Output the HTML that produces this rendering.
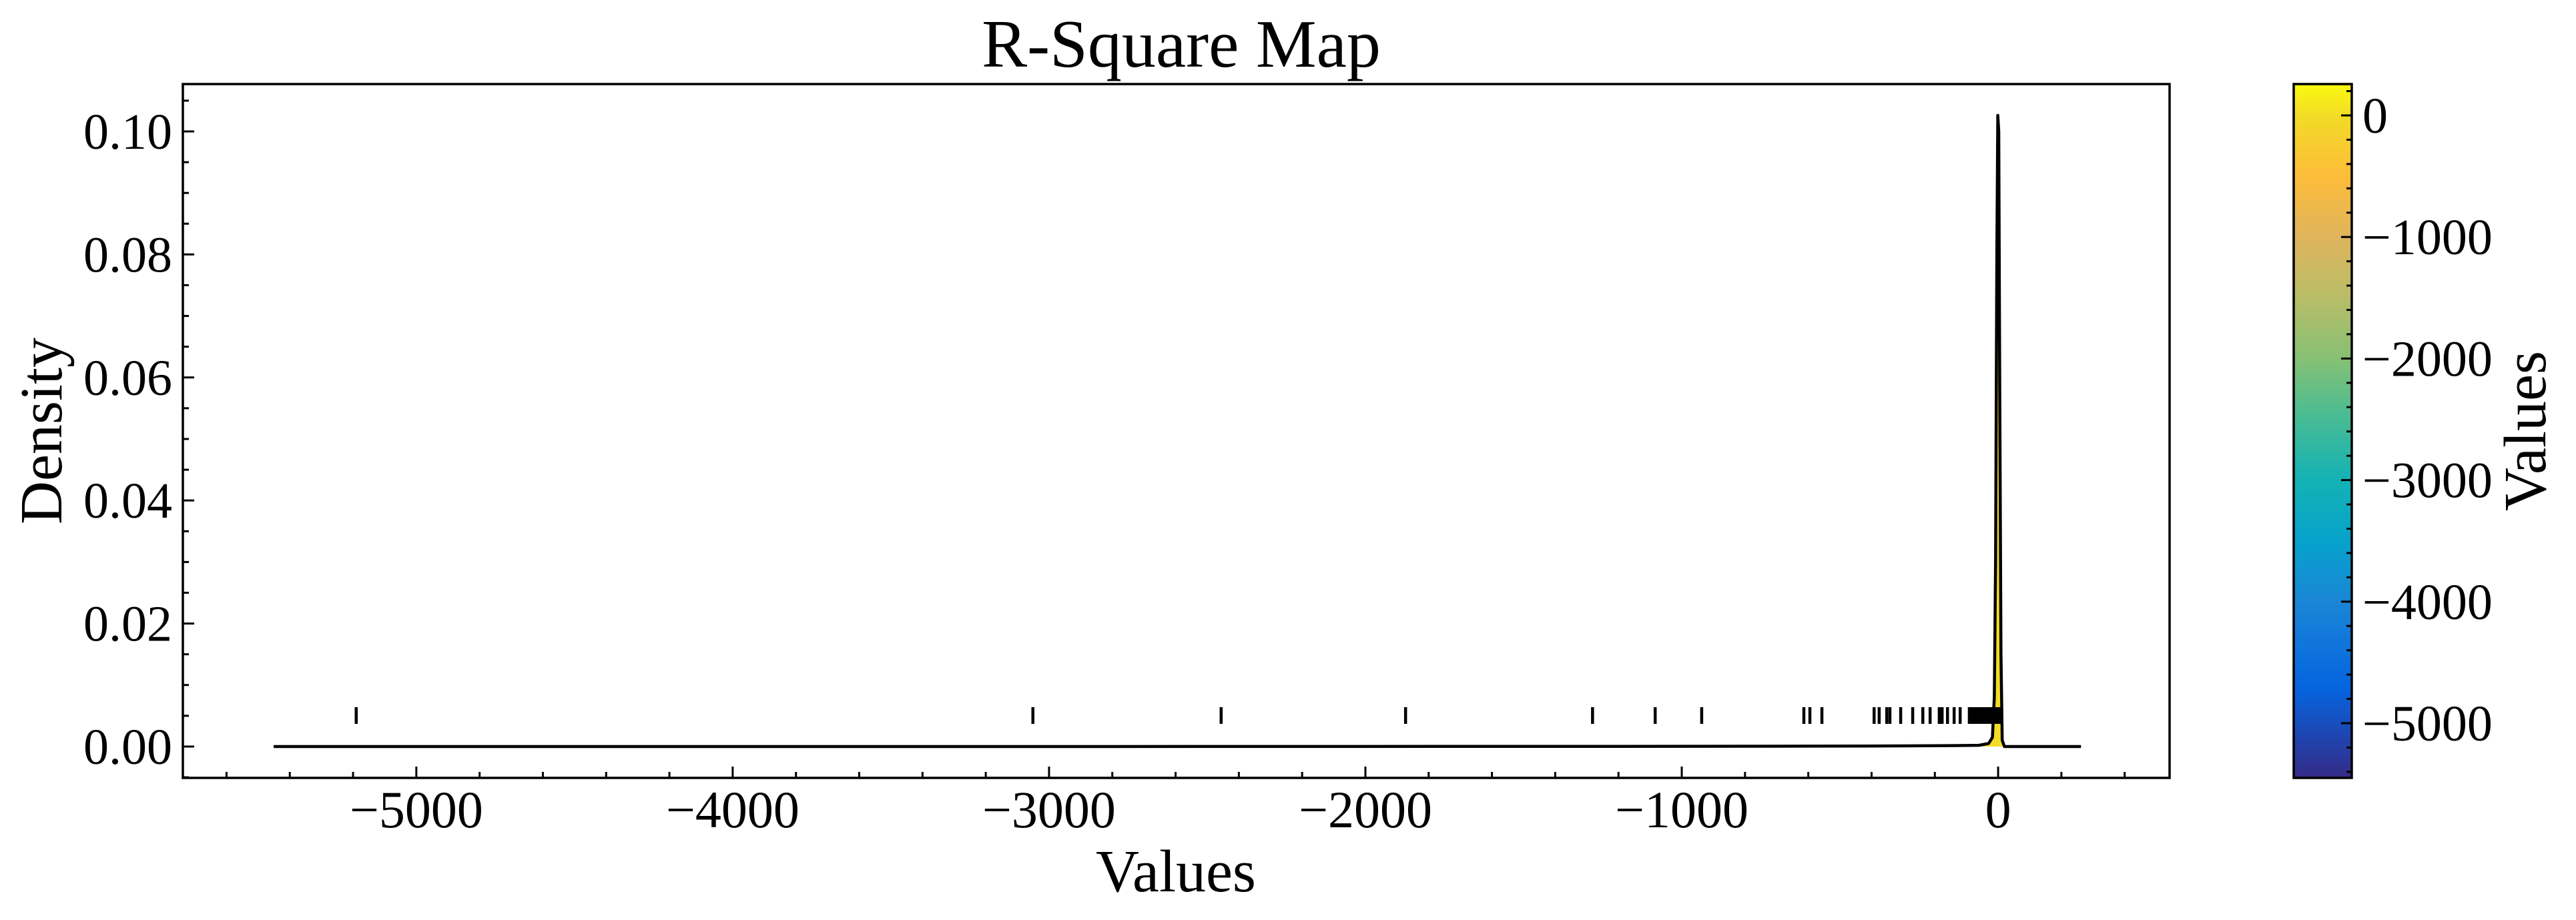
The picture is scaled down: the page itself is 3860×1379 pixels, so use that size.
<!DOCTYPE html>
<html><head><meta charset="utf-8"><style>
html,body{margin:0;padding:0;background:#fff;}
svg{display:block;font-family:"Liberation Serif","DejaVu Serif",serif;}
</style></head><body>
<svg id="chart" width="3860" height="1379" viewBox="0 0 3860 1379" xmlns="http://www.w3.org/2000/svg">
<defs>
<linearGradient id="parulaX" gradientUnits="userSpaceOnUse" x1="0" y1="0" x2="1" y2="0"></linearGradient>
<linearGradient id="parulaY" x1="0" y1="1" x2="0" y2="0"></linearGradient>
</defs>
<rect width="3860" height="1379" fill="#fff"/>
<g id="plot"></g>
</svg>
<script>
const curveX = [-5451, -3000, -1200, -600, -300, -150, -60, -30, -18, -12, -8, -4, -1, 2, 5, 9, 13, 20, 262];
const curveY = [0, 0, 0.00003, 0.00006, 0.0001, 0.00015, 0.0002, 0.0005, 0.0015, 0.008, 0.03, 0.08, 0.1026, 0.1, 0.06, 0.015, 0.001, 0, 0];
const rugValues = [-5190, -3051, -2456, -1873, -1282, -1084, -937, -614, -595, -557, -392, -376, -352, -342, -308, -270, -238, -215, -186, -177, -160, -139, -120, -91, -85, -80, -75, -70, -65, -60, -55, -50, -45, -40, -35, -30, -25, -20, -15, -10, -5, 0, 3, 6];
const xTicks = [-5000, -4000, -3000, -2000, -1000, 0];
const yTicks = [0, 0.02, 0.04, 0.06, 0.08, 0.10];
const cbTicks = [0, -1000, -2000, -3000, -4000, -5000];
const cbRange = [-5450, 258];

const NS = "http://www.w3.org/2000/svg";
const AX = {l:274, r:3251, t:126, b:1166};
const xMin = -5738, xMax = 542, yMin = -0.0051, yMax = 0.1077;
const X = v => AX.l + (v - xMin) / (xMax - xMin) * (AX.r - AX.l);
const Y = v => AX.b - (v - yMin) / (yMax - yMin) * (AX.b - AX.t);
const CB = {l:3437, r:3524, t:126, b:1166};
const CY = v => CB.b - (v - cbRange[0]) / (cbRange[1] - cbRange[0]) * (CB.b - CB.t);
const g = document.getElementById('plot');
function mk(tag, attrs, parent){const e=document.createElementNS(NS,tag);for(const k in attrs)e.setAttribute(k,attrs[k]);(parent||g).appendChild(e);return e;}
const fmtMinus = s => String(s).replace('-', '\u2212');

const stops = [[0,'#352a87'],[0.13,'#0565e0'],[0.254,'#1a86d6'],[0.34,'#07a2cc'],[0.43,'#14b2b4'],[0.52,'#48bc94'],[0.604,'#86c074'],[0.7,'#bcbd66'],[0.78,'#dfb45c'],[0.867,'#fdbc3a'],[0.955,'#f2dc26'],[1,'#f9fb0e']];
const gx = document.getElementById('parulaX');
gx.setAttribute('x1', X(cbRange[0])); gx.setAttribute('x2', X(cbRange[1]));
const gy = document.getElementById('parulaY');
stops.forEach(s=>{mk('stop',{offset:s[0],'stop-color':s[1]},gx);mk('stop',{offset:s[0],'stop-color':s[1]},gy);});

let d = 'M' + X(curveX[0]) + ',' + Y(0);
curveX.forEach((v,i)=>{d += ' L' + X(v).toFixed(2) + ',' + Y(curveY[i]).toFixed(2);});
d += ' L' + X(curveX[curveX.length-1]) + ',' + Y(0) + ' Z';
const fill = mk('path',{d:d,fill:'url(#parulaX)',stroke:'none'});



rugValues.forEach(v=>{
  const r = mk('line',{x1:X(v),x2:X(v),y1:1060,y2:1085,stroke:'#000','stroke-width':4.5});
  
  
});

let ld = '';
curveX.forEach((v,i)=>{ld += (i?' L':'M') + X(v).toFixed(2) + ',' + Y(curveY[i]).toFixed(2);});
const line = mk('path',{d:ld,fill:'none',stroke:'#000','stroke-width':4.5,'stroke-linejoin':'round'});



for(let v=-5600; v<=400; v+=200){
  const major = v % 1000 === 0;
  const t = mk('line',{x1:X(v),x2:X(v),y1:AX.b,y2:AX.b-(major?17:9),stroke:'#000','stroke-width':3});
  
  
}
for(let k=-1; k<=21; k++){
  const v = k*0.005; const major = k%4===0;
  const t = mk('line',{x1:AX.l,x2:AX.l+(major?17:9),y1:Y(v),y2:Y(v),stroke:'#000','stroke-width':3});
  
  
}
xTicks.forEach(v=>{
  const t = mk('text',{x:X(v),y:1240,'font-size':78,'text-anchor':'middle',fill:'#000'});
  t.textContent = fmtMinus(v);
  
  
});
yTicks.forEach(v=>{
  const t = mk('text',{x:258,y:Y(v)+26,'font-size':76,'text-anchor':'end',fill:'#000'});
  t.textContent = v.toFixed(2);
  
  
});
const frame = mk('rect',{x:AX.l,y:AX.t,width:AX.r-AX.l,height:AX.b-AX.t,fill:'none',stroke:'#000','stroke-width':3.5});



const title = mk('text',{x:1770,y:100,'font-size':102,'text-anchor':'middle',fill:'#000'});
title.textContent = 'R-Square Map';


const xl = mk('text',{x:1762,y:1336,'font-size':90,'text-anchor':'middle',fill:'#000'});
xl.textContent = 'Values';


const yl = mk('text',{x:0,y:0,'font-size':90,'text-anchor':'middle',fill:'#000',transform:'translate(92,646) rotate(-90)'});
yl.textContent = 'Density';



const cb = mk('rect',{x:CB.l,y:CB.t,width:CB.r-CB.l,height:CB.b-CB.t,fill:'url(#parulaY)',stroke:'#000','stroke-width':3.5});


for(let v=-5400; v<=200; v+=200){
  const major = v % 1000 === 0;
  const t = mk('line',{x1:CB.r,x2:CB.r-(major?16:8),y1:CY(v),y2:CY(v),stroke:'#000','stroke-width':3});
  
  
}
cbTicks.forEach(v=>{
  const t = mk('text',{x:3540,y:CY(v)+26,'font-size':76,fill:'#000'});
  t.textContent = fmtMinus(v);
  
  
});
const cl = mk('text',{x:0,y:0,'font-size':90,'text-anchor':'middle',fill:'#000',transform:'translate(3814,646) rotate(-90)'});
cl.textContent = 'Values';


</script>
</body></html>
